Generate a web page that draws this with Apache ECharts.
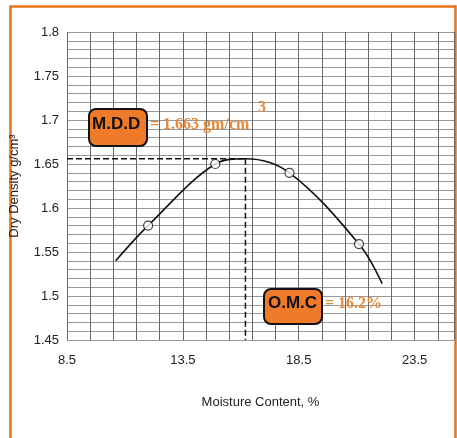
<!DOCTYPE html>
<html>
<head>
<meta charset="utf-8">
<script src="https://cdn.jsdelivr.net/npm/echarts@6/dist/echarts.min.js"></script>
<style>html,body{margin:0;padding:0;background:#fff}#contain{width:457px;height:438px}</style>
</head>
<body>
<div id="contain"></div>
<script>
// test points (moisture %, dry density)
var testPoints = [[12.0, 1.580], [14.9, 1.650], [18.1, 1.640], [21.1, 1.559]];
// fitted compaction curve
var curvePoints = [[10.6, 1.540], [12.0, 1.580], [14.9, 1.650], [16.2, 1.656],
    [18.1, 1.640], [21.1, 1.559], [22.1, 1.514]];
var mddLine = [[8.5, 1.656], [16.2, 1.656]];
var omcLine = [[16.2, 1.656], [16.2, 1.45]];
var xLabels = [8.5, 13.5, 18.5, 23.5];

var myChart = echarts.init(document.getElementById('contain'));
var font = '"Liberation Sans", Arial, sans-serif';
var option = {
    animation: false,
    backgroundColor: '#fff',
    grid: {left: 66, right: 2, top: 32, bottom: 98},
    xAxis: {
        type: 'value', min: 8.5, max: 25.2, interval: 1,
        name: 'Moisture Content, %', nameLocation: 'middle', nameGap: 56,
        nameTextStyle: {color: '#222', fontSize: 13, fontFamily: font},
        axisLine: {show: false}, axisTick: {show: false},
        axisLabel: {
            color: '#222', fontSize: 13, fontFamily: font, margin: 14,
            formatter: function (v) {
                for (var i = 0; i < xLabels.length; i++) if (Math.abs(v - xLabels[i]) < 1e-6) return xLabels[i].toFixed(1);
                return '';
            }
        },
        splitLine: {show: true, lineStyle: {color: '#666', width: 1}}
    },
    yAxis: {
        type: 'value', min: 1.45, max: 1.8, interval: 0.01,
        name: 'Dry Density g/cm³', nameLocation: 'middle', nameGap: 46,
        nameTextStyle: {color: '#222', fontSize: 13, fontFamily: font},
        axisLine: {show: false}, axisTick: {show: false},
        axisLabel: {color: '#222', fontSize: 13, fontFamily: font, margin: 8,
            formatter: function (v) {
                var k = Math.round(v * 100);
                return k % 5 === 0 ? String(k / 100) : '';
            }},
        splitLine: {show: true, lineStyle: {color: '#999', width: 1}}
    },
    series: [
        {type: 'line', data: curvePoints, smooth: 0.35, symbol: 'none',
            lineStyle: {color: '#111', width: 1.6}, z: 3},
        {type: 'line', data: mddLine, symbol: 'none',
            lineStyle: {color: '#111', width: 1.5, type: 'dashed'}, z: 2},
        {type: 'line', data: omcLine, symbol: 'none',
            lineStyle: {color: '#111', width: 1.5, type: 'dashed'}, z: 2},
        {type: 'scatter', data: testPoints, symbol: 'circle', symbolSize: 9,
            itemStyle: {color: '#fff', borderColor: '#111', borderWidth: 1.2}, z: 4}
    ],
    graphic: [
        {type: 'rect', left: 8, top: 4, shape: {width: 445, height: 440},
            style: {fill: 'none', stroke: '#E8731A', lineWidth: 2.5}, silent: true},
        {type: 'rect', left: 88, top: 108, shape: {width: 58, height: 37, r: 7},
            style: {fill: '#EE7A2A', stroke: '#111', lineWidth: 2}, z: 10},
        {type: 'text', left: 92, top: 116, z: 11,
            style: {text: 'M.D.D', fill: '#111', font: 'bold 17px ' + font}},
        {type: 'text', left: 150, top: 117, z: 11,
            style: {text: '= 1.663 gm/cm', fill: '#E8893A', font: 'bold 16px "Liberation Serif", serif'}},
        {type: 'text', left: 258, top: 100, z: 11,
            style: {text: '3', fill: '#E8893A', font: 'bold 16px "Liberation Serif", serif'}},
        {type: 'rect', left: 263, top: 288, shape: {width: 58, height: 35, r: 7},
            style: {fill: '#EE7A2A', stroke: '#111', lineWidth: 2}, z: 10},
        {type: 'text', left: 268, top: 295, z: 11,
            style: {text: 'O.M.C', fill: '#111', font: 'bold 17px ' + font}},
        {type: 'text', left: 325, top: 296, z: 11,
            style: {text: '= 16.2%', fill: '#E8893A', font: 'bold 16px "Liberation Serif", serif'}}
    ]
};
myChart.setOption(option, true);
</script>
</body>
</html>
